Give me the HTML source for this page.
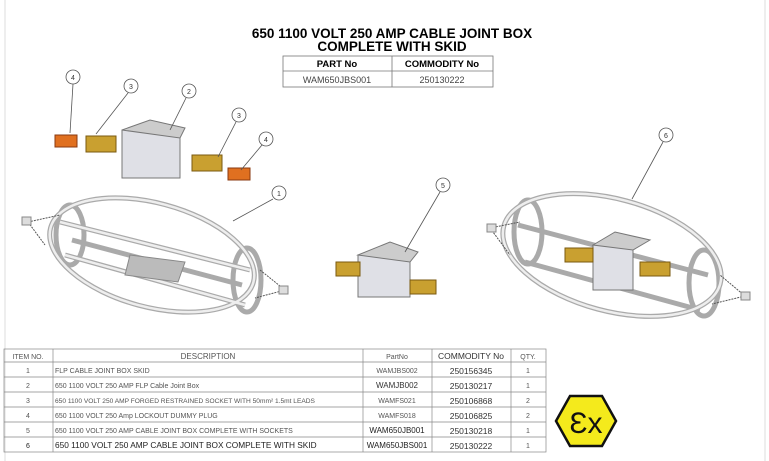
<!DOCTYPE html>
<html><head><style>
body{margin:0;background:#fff;width:769px;height:461px;overflow:hidden;font-family:"Liberation Sans",sans-serif;}
svg{position:absolute;left:0;top:0}
</style></head><body>
<svg width="769" height="461" viewBox="0 0 769 461" font-family="Liberation Sans, sans-serif">
<line x1="5" y1="0" x2="5" y2="461" stroke="#ddd"/>
<line x1="765" y1="0" x2="765" y2="461" stroke="#ddd"/>
<text x="392" y="38" font-size="13.5" font-weight="bold" text-anchor="middle">650 1100 VOLT 250 AMP CABLE JOINT BOX</text>
<text x="392" y="51" font-size="13.5" font-weight="bold" text-anchor="middle">COMPLETE WITH SKID</text>
<g stroke="#777" fill="none" stroke-width="0.8">
<rect x="283" y="56" width="210" height="31"/><line x1="283" y1="71" x2="493" y2="71"/><line x1="392" y1="56" x2="392" y2="87"/>
</g>
<text x="337" y="67" font-size="9.5" font-weight="bold" text-anchor="middle">PART No</text>
<text x="442" y="67" font-size="9.5" font-weight="bold" text-anchor="middle">COMMODITY No</text>
<text x="337" y="83" font-size="9" fill="#444" text-anchor="middle">WAM650JBS001</text>
<text x="442" y="83" font-size="9" fill="#444" text-anchor="middle">250130222</text>

<!-- left skid -->
<g fill="none" stroke="#aaa" stroke-width="5">
<ellipse cx="152" cy="255" rx="105" ry="52" transform="rotate(15 152 255)"/>
<ellipse cx="70" cy="235" rx="14" ry="30"/>
<ellipse cx="247" cy="280" rx="14" ry="32"/>
<line x1="60" y1="222" x2="250" y2="270"/>
<line x1="65" y1="255" x2="245" y2="305"/>
<line x1="72" y1="240" x2="242" y2="285"/>
</g>
<g fill="none" stroke="#eee" stroke-width="2.5">
<ellipse cx="152" cy="255" rx="105" ry="52" transform="rotate(15 152 255)"/>
<line x1="60" y1="222" x2="250" y2="270"/><line x1="65" y1="255" x2="245" y2="305"/>
</g>
<polygon points="130,255 185,262 178,282 125,275" fill="#bbb" stroke="#888"/>
<path d="M28,222 L60,215 M28,222 L45,245 M285,290 L255,298 M285,290 L260,270" stroke="#555" stroke-dasharray="2 1"/>
<rect x="22" y="217" width="9" height="8" fill="#ddd" stroke="#888"/>
<rect x="279" y="286" width="9" height="8" fill="#ddd" stroke="#888"/>

<!-- exploded parts -->
<rect x="122" y="130" width="58" height="48" fill="#dfe0e6" stroke="#777"/>
<polygon points="122,130 150,120 185,128 180,138" fill="#ccc" stroke="#777"/>
<rect x="55" y="135" width="22" height="12" fill="#e07020" stroke="#8a3a10"/>
<rect x="86" y="136" width="30" height="16" fill="#c9a030" stroke="#7a5a10"/>
<rect x="192" y="155" width="30" height="16" fill="#c9a030" stroke="#7a5a10"/>
<rect x="228" y="168" width="22" height="12" fill="#e07020" stroke="#8a3a10"/>

<!-- item 5 -->
<rect x="358" y="255" width="52" height="42" fill="#dfe0e6" stroke="#777"/>
<polygon points="358,255 390,242 418,252 410,262" fill="#ccc" stroke="#777"/>
<rect x="336" y="262" width="24" height="14" fill="#c9a030" stroke="#7a5a10"/>
<rect x="410" y="280" width="26" height="14" fill="#c9a030" stroke="#7a5a10"/>

<!-- right skid -->
<g fill="none" stroke="#aaa" stroke-width="5">
<ellipse cx="612" cy="255" rx="112" ry="56" transform="rotate(15 612 255)"/>
<ellipse cx="528" cy="232" rx="14" ry="32"/>
<ellipse cx="704" cy="283" rx="15" ry="33"/>
<line x1="518" y1="225" x2="708" y2="275"/>
<line x1="525" y1="262" x2="700" y2="310"/>
</g>
<g fill="none" stroke="#eee" stroke-width="2.5">
<ellipse cx="612" cy="255" rx="112" ry="56" transform="rotate(15 612 255)"/>
</g>
<rect x="593" y="245" width="40" height="45" fill="#dfe0e6" stroke="#777"/>
<polygon points="593,245 615,232 650,240 633,250" fill="#ccc" stroke="#777"/>
<rect x="565" y="248" width="28" height="14" fill="#c9a030" stroke="#7a5a10"/>
<rect x="640" y="262" width="30" height="14" fill="#c9a030" stroke="#7a5a10"/>
<path d="M490,228 L520,222 M490,228 L510,255 M745,296 L712,304 M745,296 L720,275" stroke="#555" stroke-dasharray="2 1"/>
<rect x="487" y="224" width="9" height="8" fill="#ddd" stroke="#888"/>
<rect x="741" y="292" width="9" height="8" fill="#ddd" stroke="#888"/>

<!-- balloons -->
<g stroke="#555" stroke-width="0.8" fill="none">
<line x1="73" y1="84" x2="70" y2="133"/><line x1="128" y1="93" x2="96" y2="134"/>
<line x1="186" y1="98" x2="170" y2="130"/><line x1="236" y1="122" x2="218" y2="157"/>
<line x1="262" y1="145" x2="241" y2="170"/><line x1="273" y1="199" x2="233" y2="221"/>
<line x1="440" y1="192" x2="405" y2="252"/><line x1="663" y1="142" x2="632" y2="199"/>
</g>
<g fill="#fff" stroke="#555" stroke-width="0.8">
<circle cx="73" cy="77" r="7"/><circle cx="131" cy="86" r="7"/><circle cx="189" cy="91" r="7"/>
<circle cx="239" cy="115" r="7"/><circle cx="266" cy="139" r="7"/><circle cx="279" cy="193" r="7"/>
<circle cx="443" cy="185" r="7"/><circle cx="666" cy="135" r="7"/>
</g>
<g font-size="7" text-anchor="middle" fill="#333">
<text x="73" y="80">4</text><text x="131" y="89">3</text><text x="189" y="94">2</text>
<text x="239" y="118">3</text><text x="266" y="142">4</text><text x="279" y="196">1</text>
<text x="443" y="188">5</text><text x="666" y="138">6</text>
</g>

<!-- BOM table -->
<g stroke="#888" stroke-width="0.7" fill="none">
<rect x="4" y="349" width="542" height="103"/>
<line x1="4" y1="362" x2="546" y2="362"/>
<line x1="4" y1="377" x2="546" y2="377"/><line x1="4" y1="392" x2="546" y2="392"/>
<line x1="4" y1="407" x2="546" y2="407"/><line x1="4" y1="422" x2="546" y2="422"/>
<line x1="4" y1="437" x2="546" y2="437"/>
<line x1="53" y1="349" x2="53" y2="452"/><line x1="363" y1="349" x2="363" y2="452"/>
<line x1="432" y1="349" x2="432" y2="452"/><line x1="511" y1="349" x2="511" y2="452"/>
</g>
<g font-size="7" fill="#555">
<text x="28" y="359" text-anchor="middle">ITEM NO.</text>
<text x="208" y="359" text-anchor="middle" font-size="8">DESCRIPTION</text>
<text x="397" y="359" text-anchor="middle">PartNo</text>
<text x="471" y="359" text-anchor="middle" font-size="8.5" fill="#333">COMMODITY No</text>
<text x="528" y="359" text-anchor="middle">QTY.</text>
<g text-anchor="middle"><text x="28" y="373">1</text><text x="28" y="388">2</text><text x="28" y="403">3</text><text x="28" y="418">4</text><text x="28" y="433">5</text><text x="28" y="448" fill="#222">6</text>
<text x="528" y="373">1</text><text x="528" y="388">1</text><text x="528" y="403">2</text><text x="528" y="418">2</text><text x="528" y="433">1</text><text x="528" y="448">1</text>
<text x="397" y="373">WAMJBS002</text><text x="397" y="388" font-size="8" fill="#333">WAMJB002</text><text x="397" y="403">WAMFS021</text><text x="397" y="418">WAMFS018</text><text x="397" y="433" font-size="8" fill="#222">WAM650JB001</text><text x="397" y="448" font-size="8" fill="#222">WAM650JBS001</text>
<g font-size="8.5" fill="#333"><text x="471" y="374">250156345</text><text x="471" y="389">250130217</text><text x="471" y="404">250106868</text><text x="471" y="419">250106825</text><text x="471" y="434">250130218</text><text x="471" y="449">250130222</text></g>
</g>
<text x="55" y="373">FLP CABLE JOINT BOX SKID</text>
<text x="55" y="388">650 1100 VOLT 250 AMP FLP Cable Joint Box</text>
<text x="55" y="403" font-size="6.6">650 1100 VOLT 250 AMP FORGED RESTRAINED SOCKET WITH 50mm² 1.5mt LEADS</text>
<text x="55" y="418">650 1100 VOLT 250 Amp LOCKOUT DUMMY PLUG</text>
<text x="55" y="433">650 1100 VOLT 250 AMP CABLE JOINT BOX COMPLETE WITH SOCKETS</text>
<text x="55" y="448" font-size="8.3" fill="#222">650 1100 VOLT 250 AMP CABLE JOINT BOX COMPLETE WITH SKID</text>
</g>

<!-- Ex logo -->
<polygon points="556,421 570,396 602,396 616,421 602,446 570,446" fill="#f4ea1c" stroke="#111" stroke-width="2.5"/>
<text x="586" y="433" font-size="30" text-anchor="middle" fill="#111" font-family="Liberation Sans, sans-serif">Ɛx</text>
</svg>
</body></html>
